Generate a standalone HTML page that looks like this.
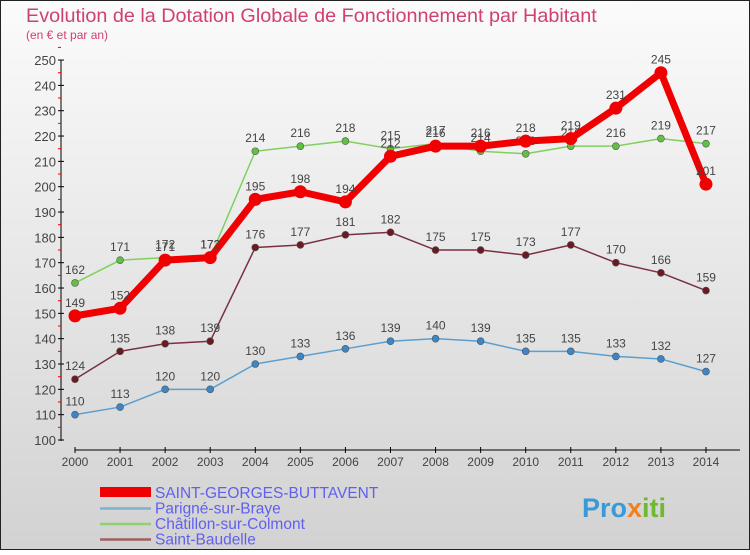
<!DOCTYPE html>
<html><head><meta charset="utf-8"><style>
body{margin:0;width:750px;height:550px;overflow:hidden;font-family:"Liberation Sans",sans-serif}
svg text{font-family:"Liberation Sans",sans-serif}
</style></head><body>
<svg width="750" height="550" xmlns="http://www.w3.org/2000/svg">
<defs><linearGradient id="bg" x1="0" y1="0" x2="0" y2="1"><stop offset="0" stop-color="#fbfbfb"/><stop offset="1" stop-color="#d2d2d2"/></linearGradient></defs>
<rect x="0.5" y="0.5" width="749" height="549" fill="url(#bg)" stroke="#222"/>
<text x="26" y="22" font-size="19.8" fill="#d04070">Evolution de la Dotation Globale de Fonctionnement par Habitant</text>
<text x="26" y="39" font-size="12" fill="#d04070">(en € et par an)</text>
<g id="axes"></g><g id="series"></g><g id="legend"></g>
<text x="582" y="517" font-size="27" font-weight="bold" fill="#3a9ad8">Pro<tspan fill="#f08020">x</tspan><tspan fill="#70b830">iti</tspan></text>
</svg>
<script>
const years=[2000,2001,2002,2003,2004,2005,2006,2007,2008,2009,2010,2011,2012,2013,2014];
const sgb=[149,152,171,172,195,198,194,212,216,216,218,219,231,245,201];
const parigne=[110,113,120,120,130,133,136,139,140,139,135,135,133,132,127];
const chatillon=[162,171,172,172,214,216,218,215,217,214,213,216,216,219,217];
const baudelle=[124,135,138,139,176,177,181,182,175,175,173,177,170,166,159];
const yTicks=[100,110,120,130,140,150,160,170,180,190,200,210,220,230,240,250];
const names=["SAINT-GEORGES-BUTTAVENT","Parigné-sur-Braye","Châtillon-sur-Colmont","Saint-Baudelle"];
const NS="http://www.w3.org/2000/svg";
const xs=i=>75+i*45.07, ys=v=>440-(v-100)*2.533;
function mk(t,a,p){const e=document.createElementNS(NS,t);for(const k in a)e.setAttribute(k,a[k]);p.appendChild(e);return e;}
const ax=document.getElementById('axes');
let l=mk('line',{x1:61,y1:60,x2:61,y2:441,stroke:'#000'},ax);

yTicks.forEach(v=>{mk('line',{x1:58,y1:ys(v),x2:64,y2:ys(v),stroke:'#000'},ax);
 mk('line',{x1:58,y1:ys(v+5),x2:61,y2:ys(v+5),stroke:'#e00'},ax);
 const t=mk('text',{x:56,y:ys(v)+5,'text-anchor':'end','font-size':13,fill:'#444'},ax);t.textContent=v;
 });
l=mk('line',{x1:75,y1:450,x2:740,y2:450,stroke:'#000'},ax);

years.forEach((y,i)=>{mk('line',{x1:xs(i),y1:447,x2:xs(i),y2:453,stroke:'#000'},ax);
 const t=mk('text',{x:xs(i),y:466,'text-anchor':'middle','font-size':12,fill:'#444'},ax);t.textContent=y;
 });
const sg=document.getElementById('series');
const defs=[[parigne,'#5a9fd0','#3a86c8',1.5,3.5],[chatillon,'#80d060','#60c040',1.5,3.5],[baudelle,'#7a3040','#6a1a20',1.5,3.5],[sgb,'#f00000','#f00000',7,6.5]];
const keys=['parigne','chatillon','baudelle','sgb'];
defs.forEach((d,k)=>{const g=mk('g',{},sg);
 
 const p=mk('polyline',{points:d[0].map((v,i)=>xs(i)+','+ys(v)).join(' '),fill:'none',stroke:d[1],'stroke-width':d[3],'stroke-linejoin':'round'},g);
 
 d[0].forEach((v,i)=>{const c=mk('circle',{cx:xs(i),cy:ys(v),r:d[4],fill:d[2],stroke:k==3?'none':'#555','stroke-width':0.6},g);
  
  const t=mk('text',{x:xs(i),y:ys(v)-9,'text-anchor':'middle','font-size':12,fill:'#444'},g);t.textContent=v;
  });});
const lg=document.getElementById('legend');
const lc=['#f00000','#80b0d0','#90d070','#a06060'],lw=[10,2.5,2.5,2.5];
names.forEach((n,i)=>{const y=485+i*15.5;
 const g=mk('g',{},lg);
 mk('line',{x1:100,y1:y+(i?8:7),x2:151,y2:y+(i?8:7),stroke:lc[i],'stroke-width':lw[i]},g);
 const t=mk('text',{x:155,y:y+13,'font-size':15.5,fill:'#6060f0'},g);t.textContent=n;});
</script>
</body></html>
